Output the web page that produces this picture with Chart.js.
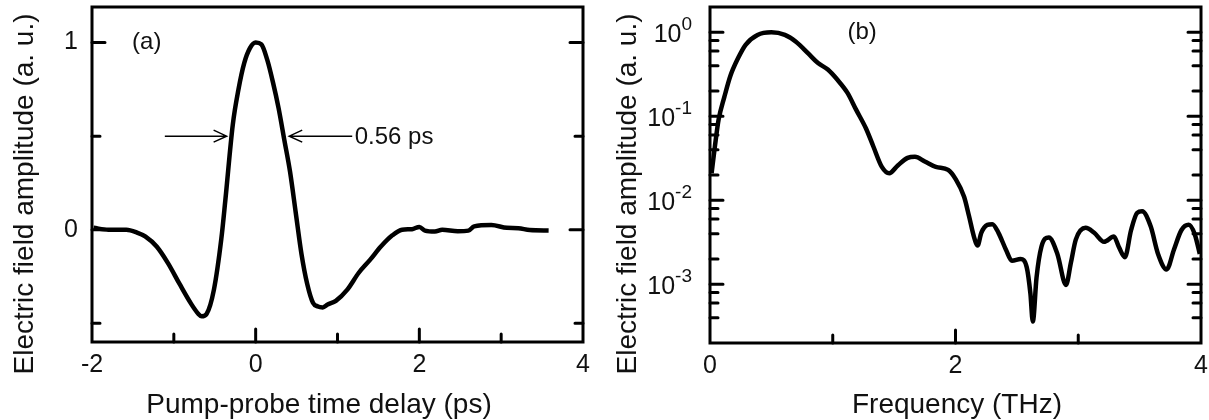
<!DOCTYPE html>
<html lang="en">
<head>
<meta charset="UTF-8" />
<title>THz pulse and spectrum</title>
<script src="https://cdn.jsdelivr.net/npm/chart.js"></script>
<style>
  body { margin: 0; background: #fff; }
  .panel { position: absolute; top: 0; height: 420px; }
  #left { left: 0; width: 605px; }
  #right { left: 605px; width: 604px; }
</style>
</head>
<body>

<div class="panel" id="left"><canvas id="pulseChart"></canvas></div>
<div class="panel" id="right"><canvas id="specChart"></canvas></div>

<script>
  // (a) time-domain field
  const delayPs = [-1.98, -1.8, -1.58, -1.45, -1.35, -1.21, -1.07, -0.93, -0.79, -0.70, -0.66, -0.60, -0.51, -0.42,
    -0.37, -0.28, -0.21, -0.14, -0.07, 0.0, 0.07, 0.14, 0.21, 0.28, 0.35, 0.42, 0.49, 0.56, 0.63, 0.70, 0.76,
    0.82, 0.88, 0.98, 1.12, 1.26, 1.40, 1.53, 1.67, 1.79, 1.91, 2.0, 2.07, 2.19, 2.28, 2.47, 2.60, 2.67, 2.88,
    3.07, 3.21, 3.35, 3.58];
  const fieldAmp = [0.01, 0.0, 0.0, -0.015, -0.036, -0.09, -0.18, -0.29, -0.395, -0.45, -0.463, -0.45, -0.32, -0.05,
    0.16, 0.56, 0.75, 0.89, 0.97, 1.0, 0.99, 0.91, 0.79, 0.65, 0.48, 0.31, 0.09, -0.13, -0.29, -0.39, -0.41,
    -0.415, -0.40, -0.38, -0.32, -0.23, -0.16, -0.09, -0.03, 0.0, 0.003, 0.015, -0.005, -0.01, 0.0, -0.008, -0.005,
    0.018, 0.025, 0.01, 0.008, -0.002, -0.004];

  // (b) spectrum
  const freqTHz = [0.013, 0.04, 0.07, 0.117, 0.165, 0.228, 0.29, 0.387, 0.50, 0.61, 0.70, 0.80, 0.88, 0.96, 1.04,
    1.12, 1.19, 1.27, 1.33, 1.40, 1.46, 1.53, 1.61, 1.67, 1.75, 1.84, 1.94, 2.0, 2.07, 2.11, 2.15, 2.18, 2.21,
    2.26, 2.30, 2.35, 2.41, 2.46, 2.53, 2.58, 2.61, 2.63, 2.66, 2.70, 2.76, 2.83, 2.90, 2.94, 2.98, 3.06, 3.13,
    3.21, 3.29, 3.33, 3.38, 3.43, 3.48, 3.52, 3.59, 3.65, 3.72, 3.78, 3.84, 3.90, 3.95, 3.99];
  const specAmp = [0.021, 0.044, 0.091, 0.17, 0.30, 0.49, 0.71, 0.93, 1.0, 0.93, 0.77, 0.56, 0.43, 0.36, 0.27,
    0.19, 0.12, 0.072, 0.044, 0.025, 0.021, 0.026, 0.032, 0.033, 0.029, 0.025, 0.023, 0.018, 0.011, 0.0065,
    0.0037, 0.0029, 0.0041, 0.0051, 0.0052, 0.0041, 0.0026, 0.0019, 0.0020, 0.0016, 0.00078, 0.00036, 0.0012,
    0.0028, 0.0036, 0.0023, 0.00098, 0.0018, 0.0034, 0.0047, 0.0041, 0.0032, 0.0037, 0.0028, 0.0021, 0.0044,
    0.0071, 0.0074, 0.0049, 0.0023, 0.0015, 0.0026, 0.0044, 0.0051, 0.0039, 0.0023];

  // ticks
  const delayLabels = [-2, 0, 2, 4];
  const fieldTicks = [-0.5, 0, 0.5, 1];
  const fieldLabels = [0, 1];
  const freqLabels = [0, 2, 4];
  const specExponents = [0, -1, -2, -3];
  const specMinor = [];
  for (let e = -4; e <= 0; e++) {
    [0.2, 0.4, 0.6, 0.8].forEach(m => specMinor.push(m * Math.pow(10, e)));
  }

  const FONT = '"Liberation Sans", Arial, sans-serif';
  const INK = '#111';

  function frameAndTicks(chart, xMajor, xMinor, yMajor, yMinor) {
    const ctx = chart.ctx, a = chart.chartArea;
    const xs = chart.scales.x, ys = chart.scales.y;
    ctx.save();
    ctx.strokeStyle = '#000';
    ctx.lineWidth = 3;
    ctx.lineCap = 'round';
    ctx.beginPath();
    const xt = (v, len) => {
      const px = xs.getPixelForValue(v);
      ctx.moveTo(px, a.bottom); ctx.lineTo(px, a.bottom - len);
    };
    const yt = (v, len) => {
      const py = ys.getPixelForValue(v);
      if (py < a.top + 1 || py > a.bottom - 1) return;
      ctx.moveTo(a.left, py); ctx.lineTo(a.left + len, py);
      ctx.moveTo(a.right, py); ctx.lineTo(a.right - len, py);
    };
    xMajor.forEach(v => xt(v, 13));
    xMinor.forEach(v => xt(v, 8));
    yMajor.forEach(v => yt(v, 13));
    yMinor.forEach(v => yt(v, 8));
    ctx.stroke();
    ctx.lineCap = 'butt';
    ctx.strokeRect(a.left, a.top, a.right - a.left, a.bottom - a.top);
    ctx.restore();
  }

  function titles(chart, xTitle, xCenter, yTitle, yTitleX) {
    const ctx = chart.ctx;
    ctx.save();
    ctx.fillStyle = INK;
    ctx.font = '28px ' + FONT;
    ctx.textAlign = 'center';
    ctx.textBaseline = 'middle';
    ctx.fillText(xTitle, xCenter, 405);
    ctx.translate(yTitleX, 194);
    ctx.rotate(-Math.PI / 2);
    ctx.fillText(yTitle, 0, 0);
    ctx.restore();
  }

  function arrow(ctx, x1, x2, y) {
    // line from x1 to x2, open head at x2
    const dir = Math.sign(x2 - x1);
    ctx.beginPath();
    ctx.moveTo(x1, y); ctx.lineTo(x2, y);
    ctx.moveTo(x2 - dir * 13, y - 6); ctx.lineTo(x2, y); ctx.lineTo(x2 - dir * 13, y + 6);
    ctx.stroke();
  }

  const pulseDecor = {
    id: 'pulseDecor',
    afterDraw(chart) {
      const ctx = chart.ctx, xs = chart.scales.x, ys = chart.scales.y;
      frameAndTicks(chart, [0, 2], [-1, 1, 3], [0, 1], [-0.5, 0.5]);
      ctx.save();
      ctx.strokeStyle = '#000';
      ctx.lineWidth = 1.5;
      const yh = ys.getPixelForValue(0.5);
      arrow(ctx, xs.getPixelForValue(-1.11), xs.getPixelForValue(-0.355), yh);
      arrow(ctx, xs.getPixelForValue(1.18), xs.getPixelForValue(0.41), yh);
      ctx.fillStyle = INK;
      ctx.font = '24px ' + FONT;
      ctx.textBaseline = 'middle';
      ctx.textAlign = 'left';
      ctx.fillText('0.56 ps', xs.getPixelForValue(1.21), yh + 1);
      ctx.fillText('(a)', xs.getPixelForValue(-1.51), ys.getPixelForValue(1.0));
      ctx.restore();
      titles(chart, 'Pump-probe time delay (ps)', 319, 'Electric field amplitude (a. u.)', 25);
    }
  };

  const specDecor = {
    id: 'specDecor',
    afterDraw(chart) {
      const ctx = chart.ctx, xs = chart.scales.x, ys = chart.scales.y, a = chart.chartArea;
      frameAndTicks(chart, [2], [1, 3], specExponents.map(e => Math.pow(10, e)), specMinor);
      ctx.save();
      ctx.fillStyle = INK;
      ctx.textBaseline = 'alphabetic';
      specExponents.forEach(e => {
        const py = ys.getPixelForValue(Math.pow(10, e));
        ctx.font = '19px ' + FONT;
        ctx.textAlign = 'right';
        const sup = String(e);
        const right = a.left - 18;
        ctx.fillText(sup, right, py - 2);
        const w = ctx.measureText(sup).width;
        ctx.font = '25px ' + FONT;
        ctx.fillText('10', right - w, py + 10);
      });
      ctx.font = '24px ' + FONT;
      ctx.textAlign = 'left';
      ctx.textBaseline = 'middle';
      ctx.fillText('(b)', xs.getPixelForValue(1.12), ys.getPixelForValue(1.0));
      ctx.restore();
      titles(chart, 'Frequency (THz)', 957 - 605, 'Electric field amplitude (a. u.)', 23);
    }
  };

  function noPad(s) { s.paddingTop = 0; s.paddingBottom = 0; s.paddingLeft = 0; s.paddingRight = 0; }

  function xAxis(min, max, labels, height) {
    return {
      type: 'linear', min: min, max: max,
      afterBuildTicks: s => { s.ticks = labels.map(v => ({ value: v })); },
      afterFit: s => { s.height = height; noPad(s); },
      grid: { display: false, drawTicks: false },
      border: { display: false },
      ticks: { autoSkip: false, maxRotation: 0, padding: 8, color: INK, font: { family: FONT, size: 25 } }
    };
  }

  new Chart(document.getElementById('pulseChart'), {
    type: 'line',
    data: {
      datasets: [{
        data: delayPs.map((t, i) => ({ x: t, y: fieldAmp[i] })),
        borderColor: '#000',
        borderWidth: 4.5,
        pointRadius: 0,
        cubicInterpolationMode: 'monotone'
      }]
    },
    options: {
      responsive: true,
      maintainAspectRatio: false,
      animation: false,
      layout: { padding: { top: 7, right: 22, left: 0, bottom: 0 } },
      plugins: { legend: { display: false }, tooltip: { enabled: false } },
      scales: {
        x: xAxis(-2, 4, delayLabels, 78),
        y: {
          type: 'linear', min: -0.6, max: 1.19,
          afterBuildTicks: s => { s.ticks = fieldTicks.map(v => ({ value: v })); },
          afterFit: s => { s.width = 92; noPad(s); },
          grid: { display: false, drawTicks: false },
          border: { display: false },
          ticks: {
            autoSkip: false, padding: 14, color: INK, font: { family: FONT, size: 25 },
            callback: v => fieldLabels.includes(v) ? String(v) : ''
          }
        }
      }
    },
    plugins: [pulseDecor]
  });

  new Chart(document.getElementById('specChart'), {
    type: 'line',
    data: {
      datasets: [{
        data: freqTHz.map((f, i) => ({ x: f, y: specAmp[i] })),
        borderColor: '#000',
        borderWidth: 4.5,
        pointRadius: 0,
        cubicInterpolationMode: 'monotone'
      }]
    },
    options: {
      responsive: true,
      maintainAspectRatio: false,
      animation: false,
      layout: { padding: { top: 7, right: 8, left: 0, bottom: 0 } },
      plugins: { legend: { display: false }, tooltip: { enabled: false } },
      scales: {
        x: xAxis(0, 4, freqLabels, 77),
        y: {
          type: 'logarithmic', min: 2e-4, max: 2,
          afterFit: s => { s.width = 105; noPad(s); },
          grid: { display: false, drawTicks: false },
          border: { display: false },
          ticks: { display: false }
        }
      }
    },
    plugins: [specDecor]
  });
</script>
</body>
</html>
